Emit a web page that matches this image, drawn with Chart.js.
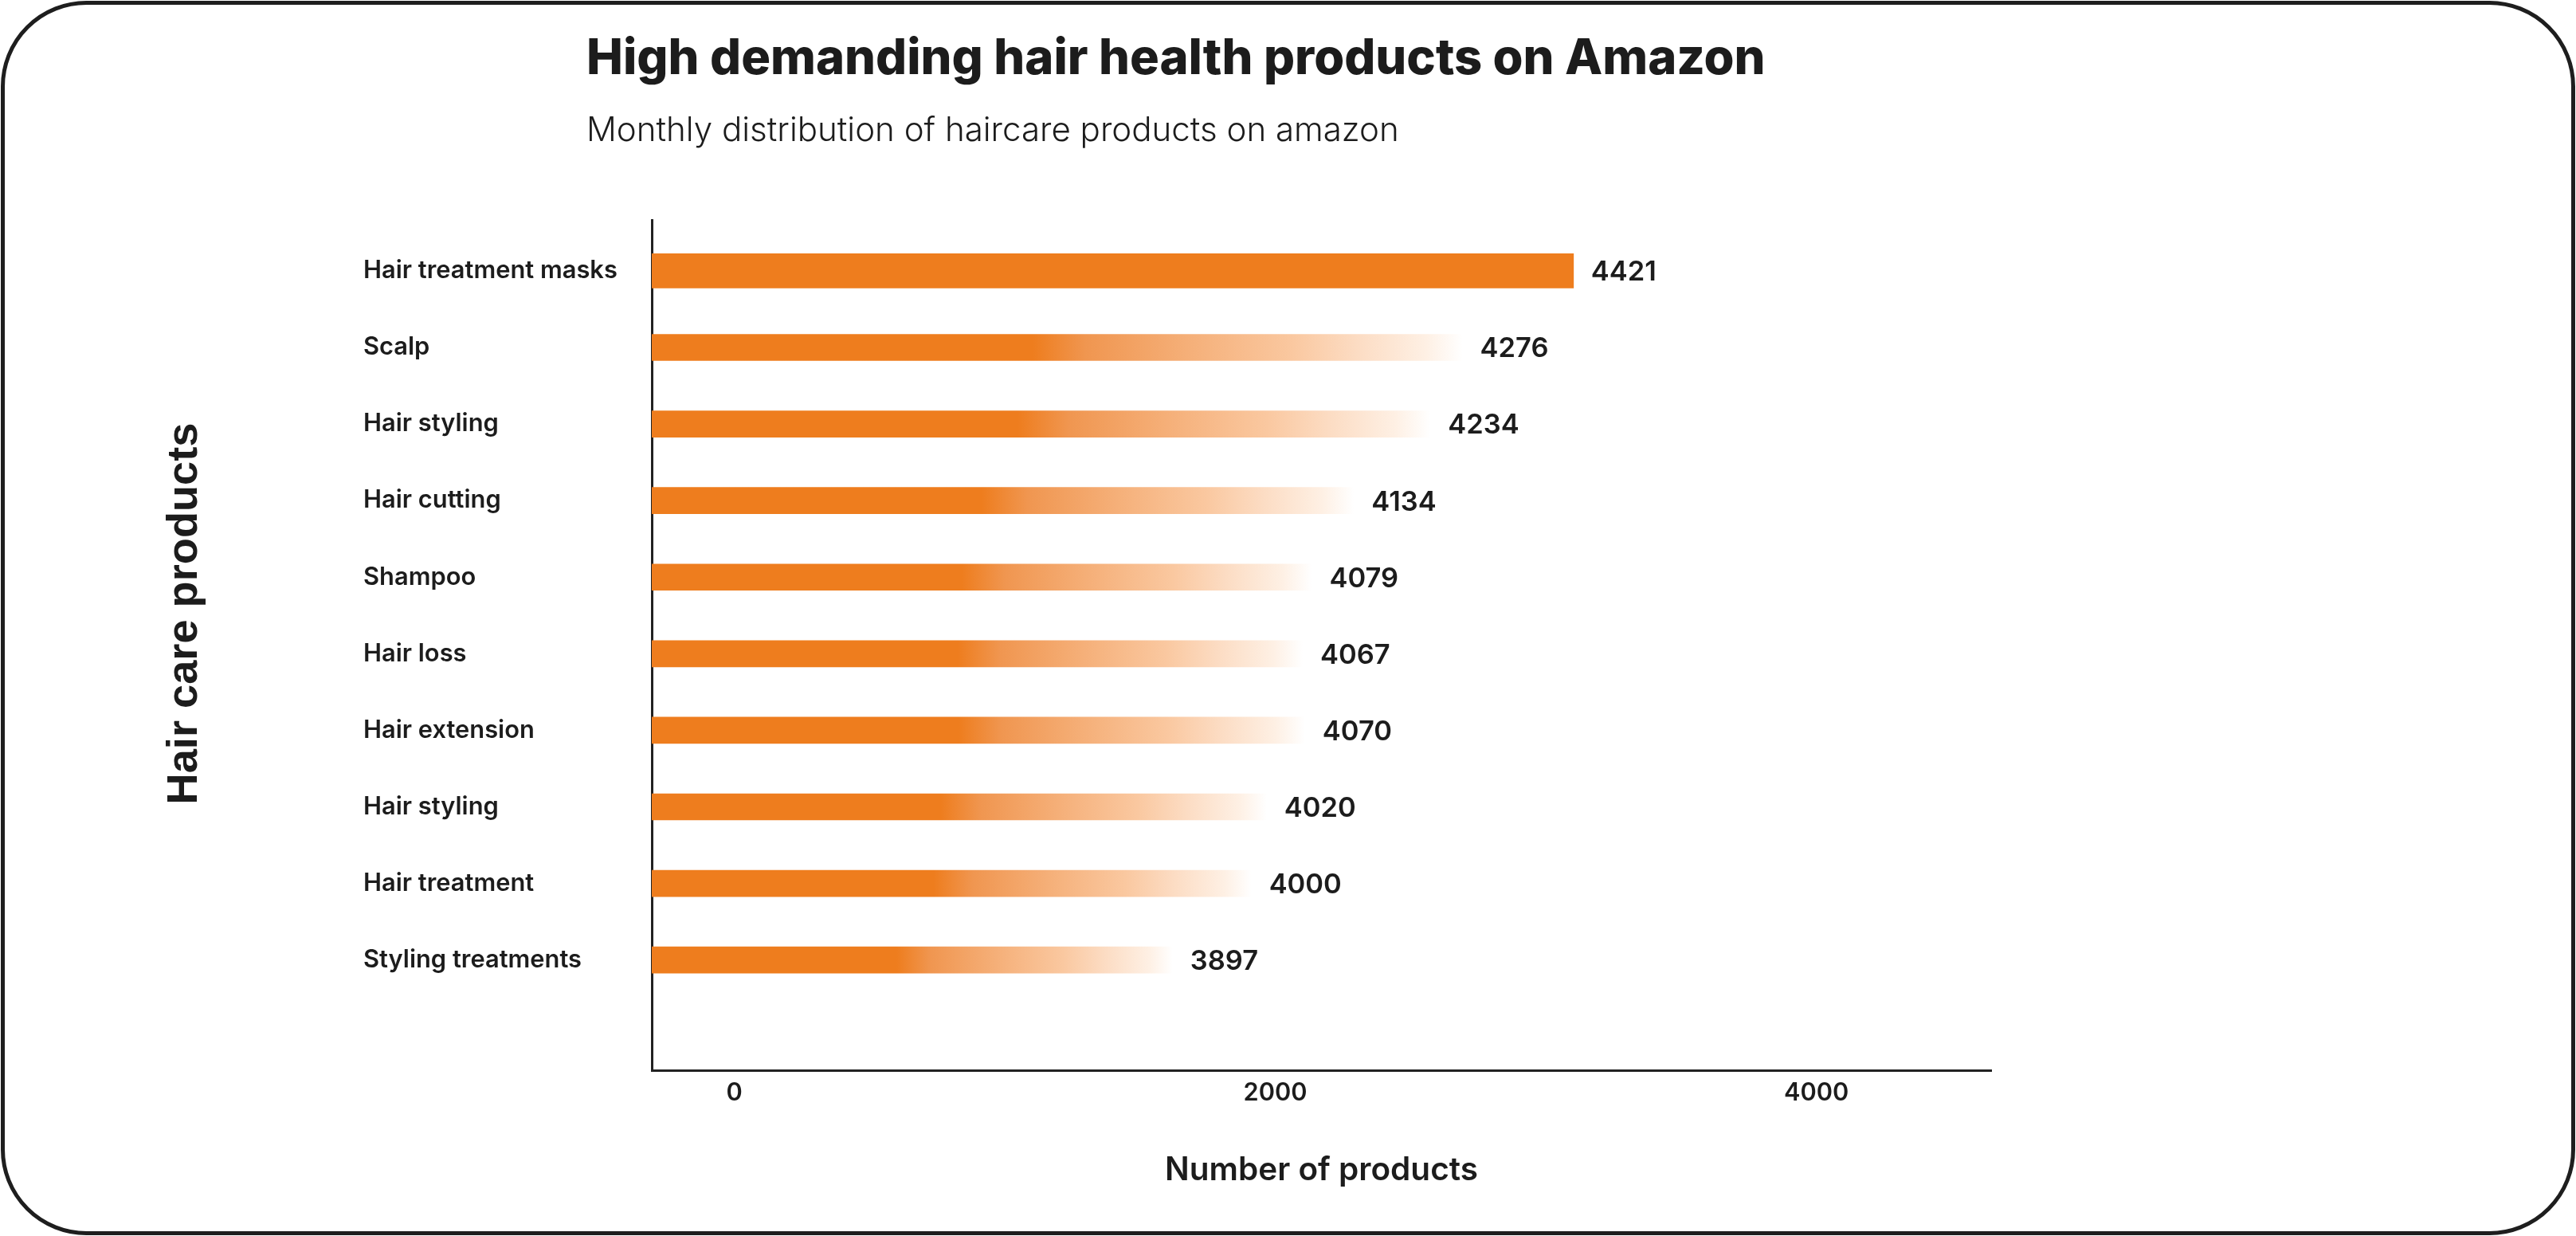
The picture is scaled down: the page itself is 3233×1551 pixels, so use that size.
<!DOCTYPE html>
<html>
<head>
<meta charset="utf-8">
<script src="https://cdn.jsdelivr.net/npm/chart.js@4.4.1/dist/chart.umd.min.js"></script>
<style>
  html, body { margin: 0; padding: 0; background: #ffffff; }
  canvas { display: block; }
</style>
</head>
<body>
<canvas id="c" width="3233" height="1551"></canvas>
<script>
// ---------------- data ----------------
const categories = ["Hair treatment masks", "Scalp", "Hair styling", "Hair cutting", "Shampoo",
                    "Hair loss", "Hair extension", "Hair styling", "Hair treatment", "Styling treatments"];
const productCounts = [4421, 4276, 4234, 4134, 4079, 4067, 4070, 4020, 4000, 3897];
const axisTicks = [0, 2000, 4000];
const chartTitle = "High demanding hair health products on Amazon";
const chartSubtitle = "Monthly distribution of haircare products on amazon";
const xAxisTitle = "Number of products";
const yAxisTitle = "Hair care products";

// ---------------- styling helpers ----------------
const ORANGE = 'rgb(238,125,30)';
const INK = '#1c1c1c';
const FAM = 'Inter, "Noto Sans", sans-serif';

function fitSize(text, weight, family, targetWidth) {
  const c = document.createElement('canvas').getContext('2d');
  c.font = weight + ' 100px ' + family;
  return 100 * targetWidth / c.measureText(text).width;
}
const titleSize = fitSize(chartTitle, 800, FAM, 1480);
const subSize = fitSize(chartSubtitle, 300, FAM, 1020);
const catSize = fitSize("Hair treatment masks", 600, FAM, 319);
const valSize = fitSize("4421", 600, FAM, 82);
const tickSize = fitSize("2000", 600, FAM, 80);
const xTitleSize = fitSize(xAxisTitle, 600, FAM, 393);
const yTitleSize = fitSize(yAxisTitle, 'bold', '"Liberation Sans", Arial, sans-serif', 479);

function gradientFill(ctx) {
  const chart = ctx.chart;
  const xs = chart.scales.x;
  if (ctx.type !== 'data' || !xs || !chart.chartArea) return ORANGE;
  const x0 = xs.getPixelForValue(xs.min);
  const x1 = xs.getPixelForValue(ctx.raw.x);
  const g = chart.ctx.createLinearGradient(x0, 0, x1, 0);
  g.addColorStop(0, ORANGE);
  g.addColorStop(0.47, ORANGE);
  g.addColorStop(0.535, 'rgb(240,150,80)');
  g.addColorStop(0.66, 'rgb(245,175,120)');
  g.addColorStop(0.79, 'rgb(250,200,160)');
  g.addColorStop(0.87, 'rgb(252,220,195)');
  g.addColorStop(0.955, 'rgb(254,240,228)');
  g.addColorStop(1, 'rgb(255,255,255)');
  return g;
}

const topPoints = productCounts.slice(0, 1).map((v, i) => ({ x: v, y: i }));
const restPoints = productCounts.slice(1).map((v, i) => ({ x: v, y: i + 1 }));

// ---------------- plugins ----------------
const framePlugin = {
  id: 'frame',
  beforeDraw(chart) {
    const c = chart.ctx;
    c.save();
    c.fillStyle = '#ffffff';
    c.fillRect(0, 0, chart.width, chart.height);
    c.beginPath();
    c.roundRect(3.5, 3.5, chart.width - 7, chart.height - 7, 105);
    c.lineWidth = 5;
    c.strokeStyle = '#1e1e1e';
    c.stroke();
    c.restore();
  },
  afterDraw(chart) {
    const c = chart.ctx;
    c.save();
    c.fillStyle = INK;
    c.textAlign = 'left';
    c.textBaseline = 'alphabetic';
    c.font = '800 ' + titleSize + 'px ' + FAM;
    c.fillText(chartTitle, 736, 93);
    c.font = '300 ' + subSize + 'px ' + FAM;
    c.fillText(chartSubtitle, 736, 177);
    // y axis title
    c.translate(247, 770);
    c.rotate(-Math.PI / 2);
    c.textAlign = 'center';
    c.font = 'bold ' + yTitleSize + 'px "Liberation Sans", Arial, sans-serif';
    c.fillText(yAxisTitle, 0, 0);
    c.restore();
  }
};

const valueLabels = {
  id: 'valueLabels',
  afterDatasetsDraw(chart) {
    const c = chart.ctx;
    c.save();
    c.fillStyle = INK;
    c.font = '600 ' + valSize + 'px ' + FAM;
    c.textAlign = 'left';
    c.textBaseline = 'middle';
    chart.data.datasets.forEach((ds, di) => {
      chart.getDatasetMeta(di).data.forEach((el, i) => {
        c.fillText(String(ds.data[i].x), el.x + 22, el.y + 2);
      });
    });
    c.restore();
  }
};

// ---------------- chart ----------------
new Chart(document.getElementById('c'), {
  type: 'bar',
  data: {
    datasets: [
      { data: topPoints, backgroundColor: ORANGE, barThickness: 43, grouped: false, borderWidth: 0 },
      { data: restPoints, backgroundColor: gradientFill, barThickness: 33, grouped: false, borderWidth: 0 }
    ]
  },
  options: {
    indexAxis: 'y',
    responsive: false,
    animation: false,
    devicePixelRatio: 1,
    layout: { padding: { top: 276, left: 456, right: 734, bottom: 58 } },
    plugins: { legend: { display: false }, tooltip: { enabled: false } },
    scales: {
      y: {
        type: 'linear',
        reverse: true,
        offset: false,
        min: -0.665,
        max: 10.445,
        afterBuildTicks(s) { s.ticks = categories.map((_, i) => ({ value: i })); },
        afterFit(s) { s.width = 362; },
        grid: { display: false, drawTicks: false },
        border: { display: true, color: '#222222', width: 3 },
        ticks: {
          crossAlign: 'far',
          padding: 10,
          autoSkip: false,
          color: INK,
          font: { family: FAM, size: catSize, weight: 600 },
          callback: (v) => categories[v] ?? ''
        }
      },
      x: {
        type: 'linear',
        display: false,
        offset: false,
        min: 3216,
        max: 4967
      },
      xt: {
        type: 'linear',
        position: 'bottom',
        axis: 'x',
        offset: false,
        min: -305,
        max: 4646,
        afterBuildTicks(s) { s.ticks = axisTicks.map(v => ({ value: v })); },
        grid: { display: false, drawTicks: false },
        border: { display: true, color: '#222222', width: 3 },
        ticks: {
          padding: 10,
          color: INK,
          font: { family: FAM, size: tickSize, weight: 600 },
          callback: (v) => String(v)
        },
        title: {
          display: true,
          text: xAxisTitle,
          color: INK,
          font: { family: FAM, size: xTitleSize, weight: 600 },
          padding: { top: 44, bottom: 0 }
        }
      }
    }
  },
  plugins: [framePlugin, valueLabels]
});
</script>
</body>
</html>
